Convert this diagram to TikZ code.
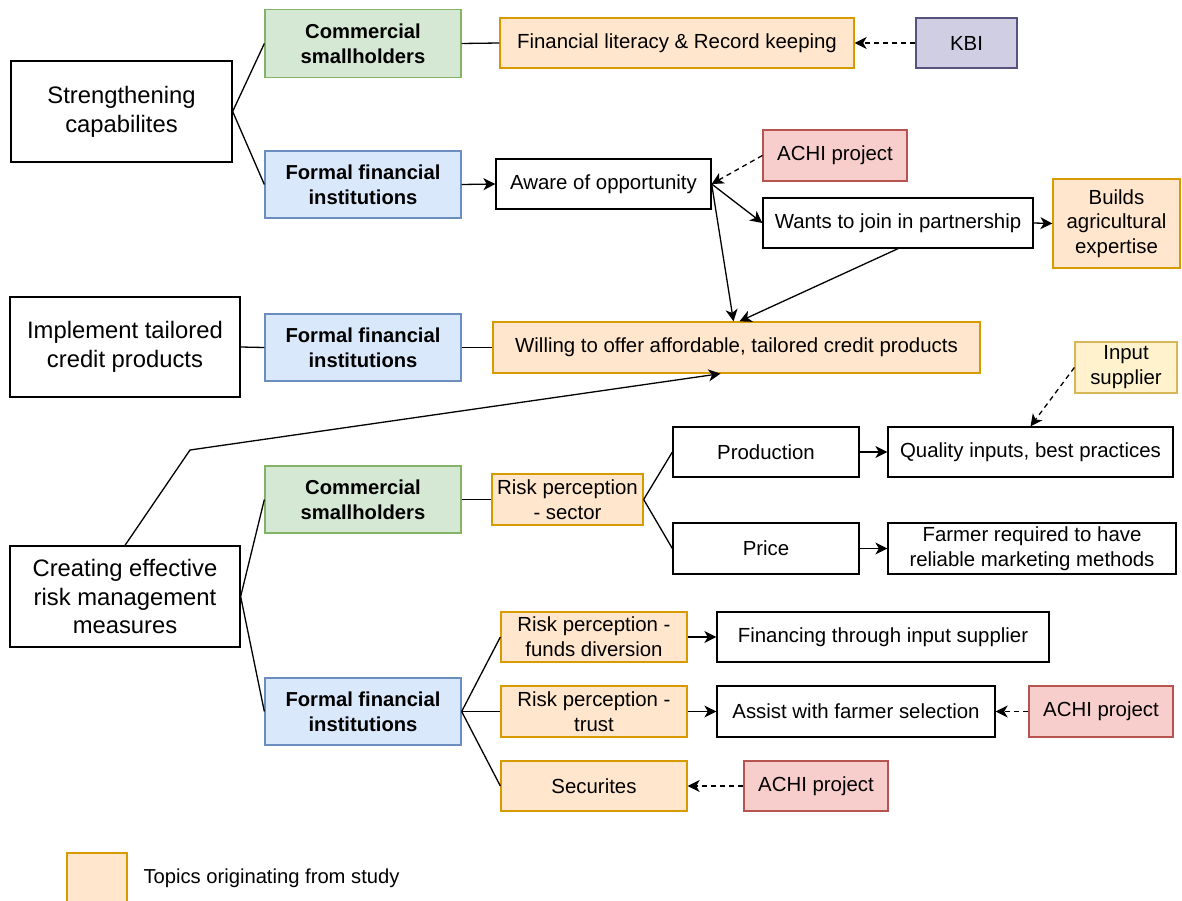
\documentclass[tikz,border=0pt]{standalone}
\usepackage{fontspec}
\setmainfont{Liberation Sans}
\usetikzlibrary{arrows.meta}

\definecolor{grnF}{HTML}{D5E8D4}\definecolor{grnD}{HTML}{82B366}
\definecolor{bluF}{HTML}{DAE8FC}\definecolor{bluD}{HTML}{6C8EBF}
\definecolor{orgF}{HTML}{FFE6CC}\definecolor{orgD}{HTML}{D79B00}
\definecolor{redF}{HTML}{F8CECC}\definecolor{redD}{HTML}{B85450}
\definecolor{purF}{HTML}{D0CEE2}\definecolor{purD}{HTML}{56517E}
\definecolor{yelF}{HTML}{FFF2CC}\definecolor{yelD}{HTML}{D6B656}

\tikzset{
  sz/.style 2 args={minimum width=#1pt, minimum height=#2pt},
  box/.style={draw=black, fill=white, line width=1.3pt, inner sep=0pt,
    align=center, text=black, font=\fontsize{20.4}{25}\selectfont},
  big/.style={box, font=\fontsize{23.8}{28.8}\selectfont},
  grn/.style={box, fill=grnF, draw=grnD, font=\bfseries\fontsize{20.2}{25}\selectfont},
  blu/.style={box, fill=bluF, draw=bluD, font=\bfseries\fontsize{20.2}{25}\selectfont},
  org/.style={box, fill=orgF, draw=orgD},
  redbox/.style={box, fill=redF, draw=redD},
  pur/.style={box, fill=purF, draw=purD},
  yel/.style={box, fill=yelF, draw=yelD},
  link/.style={draw=black, line width=1.3pt},
  arr/.style={link, -{Stealth[length=12pt, width=12pt, inset=3.5pt]}},
  darr/.style={arr, dash pattern=on 5pt off 4pt},
}

\begin{document}
\begin{tikzpicture}[x=1pt, y=-1pt]
\useasboundingbox[fill=white] (0,0) rectangle (1182,901);

% first block: strengthening capabilities
\node[big, sz={221}{101}] (sc) at (121.5,111.5) {Strengthening\\capabilites};
\node[grn, sz={196}{68}] (cs1) at (363,43.5) {Commercial\\smallholders};
\node[blu, sz={196}{67}] (ff1) at (363,184.5) {Formal financial\\institutions};
\node[org, sz={354}{50}] (fl) at (677,43) {Financial literacy \& Record keeping};
\node[pur, sz={101}{50}] (kbi) at (966.5,43) {KBI};
\node[redbox, sz={144}{51}] (achi1) at (835,155.5) {ACHI project};
\node[box, sz={215}{50}] (aw) at (603.5,184) {Aware of opportunity};
\node[box, sz={270}{50}] (wj) at (898,223) {Wants to join in partnership};
\node[org, sz={127}{89}, font=\fontsize{20.4}{24.5}\selectfont] (ba) at (1116.5,223.5) {Builds\\agricultural\\expertise};

% second block: tailored credit products
\node[big, sz={230}{100}] (it) at (125,347) {Implement tailored\\credit products};
\node[blu, sz={196}{67}] (ff2) at (363,347.5) {Formal financial\\institutions};
\node[org, sz={487}{51}] (wo) at (736.5,347.5) {Willing to offer affordable, tailored credit products};

% third block: risk management
\node[yel, sz={102}{51}] (ins) at (1126,367.5) {Input\\supplier};
\node[box, sz={186}{50}] (pr) at (766,452) {Production};
\node[box, sz={285}{50}] (qi) at (1030.5,452) {Quality inputs, best practices};
\node[grn, sz={196}{67}] (cs2) at (363,499.5) {Commercial\\smallholders};
\node[org, sz={151}{51}] (rs) at (567.5,499.5) {Risk perception\\- sector};
\node[box, sz={186}{51}] (pc) at (766,548.5) {Price};
\node[box, sz={288}{51}] (fr) at (1032,548.5) {Farmer required to have\\reliable marketing methods};
\node[big, sz={230}{101}] (ce) at (125,596.5) {Creating effective\\risk management\\measures};
\node[org, sz={186}{50}] (rf) at (594,637) {Risk perception -\\funds diversion};
\node[box, sz={332}{50}] (fi) at (883,637) {Financing through input supplier};
\node[blu, sz={196}{67}] (ff3) at (363,711.5) {Formal financial\\institutions};
\node[org, sz={186}{51}] (rt) at (594,711.5) {Risk perception -\\trust};
\node[box, sz={278}{51}] (as) at (856,711.5) {Assist with farmer selection};
\node[redbox, sz={144}{51}] (achi2) at (1101,711.5) {ACHI project};
\node[org, sz={186}{50}] (se) at (594,786) {Securites};
\node[redbox, sz={144}{50}] (achi3) at (816,786) {ACHI project};

% legend
\node[org, sz={60}{60}] (lg) at (97,883) {};
\node[anchor=west, font=\fontsize{20.2}{25}\selectfont] (lt) at (140,878) {Topics originating from study};

% connectors, first block
\draw[link] (sc.east) -- (cs1.west);
\draw[link] (sc.east) -- (ff1.west);
\draw[link] (cs1.east) -- (fl.west);
\draw[darr] (kbi.west) -- (fl.east);
\draw[arr] (ff1.east) -- (aw.west);
\draw[darr] (achi1.west) -- (aw.east);
\draw[arr] (aw.east) -- (wj.west);
\draw[arr] (aw.east) -- ([xshift=-3pt]wo.north);
\draw[arr] (wj.south) -- ([xshift=3pt]wo.north);
\draw[arr] (wj.east) -- (ba.west);

% connectors, second block
\draw[link] (it.east) -- (ff2.west);
\draw[link] (ff2.east) -- (wo.west);
\coordinate (bend) at (190,450);
\draw[arr] (ce.north) -- (bend) -- ([xshift=-16pt]wo.south);

% connectors, third block
\draw[link] (ce.east) -- (cs2.west);
\draw[link] (ce.east) -- (ff3.west);
\draw[link] (cs2.east) -- (rs.west);
\draw[link] (rs.east) -- (pr.west);
\draw[link] (rs.east) -- (pc.west);
\draw[arr] (pr.east) -- (qi.west);
\draw[arr] (pc.east) -- (fr.west);
\draw[darr] (ins.west) -- (qi.north);
\draw[link] (ff3.east) -- (rf.west);
\draw[link] (ff3.east) -- (rt.west);
\draw[link] (ff3.east) -- (se.west);
\draw[arr] (rf.east) -- (fi.west);
\draw[arr] (rt.east) -- (as.west);
\draw[darr] (achi2.west) -- (as.east);
\draw[darr] (achi3.west) -- (se.east);
\end{tikzpicture}
\end{document}
